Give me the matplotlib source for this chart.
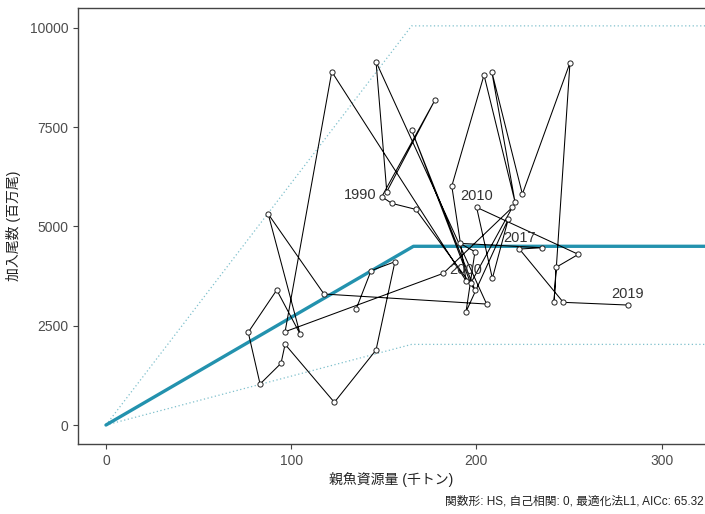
import matplotlib
matplotlib.use("Agg")
import matplotlib.pyplot as plt
import numpy as np

plt.rcParams['font.family'] = ['Liberation Sans', 'Noto Sans CJK JP', 'DejaVu Sans']

years = list(range(1973, 2020))
ssb = [135.0, 143.1, 156.0, 145.8, 123.3, 96.7, 94.5, 83.2, 76.8, 92.2,
       104.8, 87.6, 117.7, 205.5, 145.8, 151.6, 177.6, 148.9, 154.3, 167.2,
       199.2, 165.0, 196.9, 219.4, 182.1, 96.7, 121.9, 194.4, 186.7, 204.1,
       220.8, 208.3, 224.8, 250.5, 241.9, 243.0, 255.0, 200.1, 208.6, 217.2,
       194.4, 199.2, 191.1, 235.2, 223.2, 246.9, 281.7]
rec = [2913, 3885, 4112, 1888, 571, 2032, 1553, 1032, 2334, 3399,
       2291, 5312, 3298, 3046, 9147, 5874, 8182, 5748, 5581, 5430,
       3399, 7427, 3567, 5481, 3819, 2349, 8895, 3633, 6017, 8812,
       5622, 8895, 5816, 9121, 3104, 3970, 4297, 5481, 3692, 5186,
       2853, 4363, 4574, 4464, 4431, 3089, 3021]

label_years = [1990, 2000, 2010, 2017, 2019]

# hockey-stick fit and its band
hs_x = [0, 166, 340]
hs_y = [0, 4500, 4500]
upper_x = [0, 165, 340]
upper_y = [0, 10050, 10050]
lower_x = [0, 165, 340]
lower_y = [0, 2030, 2030]

fig = plt.figure(figsize=(7.05, 5.14), dpi=100)
ax = fig.add_axes([78/705, 1-444/514, 1-78/705, (444-8)/514])

ax.plot(upper_x, upper_y, ls=(0, (1, 2)), color='#7fc0cc', lw=0.9)
ax.plot(lower_x, lower_y, ls=(0, (1, 2)), color='#7fc0cc', lw=0.9)
ax.plot(hs_x, hs_y, color='#2392ae', lw=2.4, solid_capstyle='round', zorder=2)

ax.plot(ssb, rec, color='black', lw=0.75, zorder=3)
ax.scatter(ssb, rec, s=14, facecolor='white', edgecolor='#222222', lw=0.7, zorder=4)

for yr in label_years:
    i = years.index(yr)
    if yr == 1990:
        ax.annotate(str(yr), (ssb[i], rec[i]), xytext=(-4, 1), textcoords='offset points',
                    ha='right', va='center', fontsize=10.5, color='#333333', zorder=5)
    else:
        ax.annotate(str(yr), (ssb[i], rec[i]), xytext=(0, 3), textcoords='offset points',
                    ha='center', va='bottom', fontsize=10.5, color='#333333', zorder=5)

ax.set_xlim(-15.1, 323.4)
ax.set_ylim(-478, 10500)
ax.set_xticks([0, 100, 200, 300])
ax.set_yticks([0, 2500, 5000, 7500, 10000])
ax.tick_params(direction='out', length=3.5, width=0.8, color='#444444',
               labelsize=10, labelcolor='#4d4d4d')
for side in ['left', 'bottom', 'top']:
    ax.spines[side].set_color('#444444')
    ax.spines[side].set_linewidth(1.0)
ax.spines['right'].set_visible(False)

ax.set_xlabel('親魚資源量 (千トン)', fontsize=10, color='#222222', labelpad=3)
ax.set_ylabel('加入尾数 (百万尾)', fontsize=10, color='#222222', labelpad=6)

fig.text(0.998, 0.012, '関数形: HS, 自己相関: 0, 最適化法L1, AICc: 65.32',
         ha='right', va='bottom', fontsize=8.5, color='#222222')

fig.savefig('out.png', dpi=100)
